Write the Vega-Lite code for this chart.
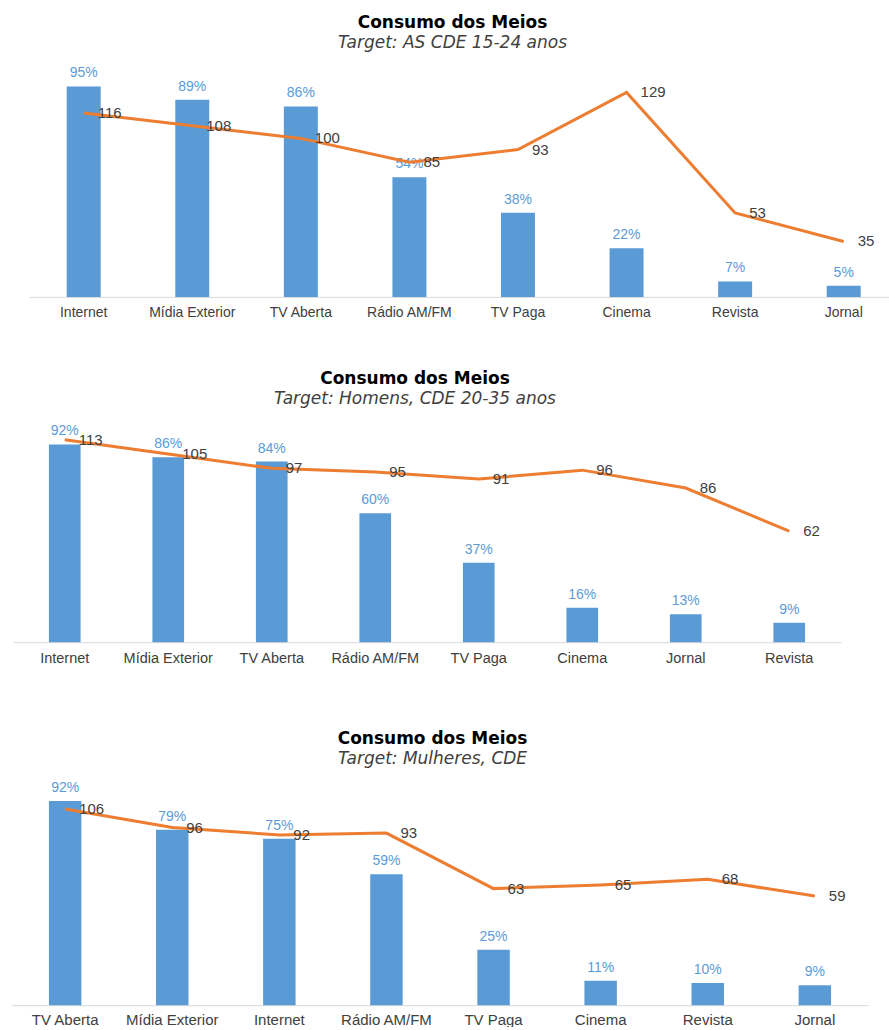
{
  "$schema": "https://vega.github.io/schema/vega-lite/v6.json",
  "padding": {"top": 14.2, "left": 0, "right": 0, "bottom": 0},
  "spacing": 0,
  "background": "white",
  "config": {
    "view": {"stroke": null},
    "axis": {"domainColor": "#D9D9D9", "domainWidth": 1, "ticks": false, "tickSize": 0, "grid": false, "labelColor": "#404040", "labelFont": "Liberation Sans", "labelAngle": 0, "labelOverlap": false, "labelLimit": 200, "title": null},
    "title": {"font": "DejaVu Sans", "fontSize": 17, "fontWeight": "bold", "color": "#000000", "subtitleFont": "DejaVu Sans", "subtitleFontSize": 17, "subtitleFontStyle": "italic", "subtitleColor": "#404040", "subtitlePadding": 3, "anchor": "middle", "frame": "group"}
  },
  "vconcat": [
    {
      "width": 889, "height": 241.7,
      "title": {"text": "Consumo dos Meios", "subtitle": "Target: AS CDE 15-24 anos", "offset": 2.8, "dx": 8},
      "data": {"values": [
        {"meio": "Internet", "pct": 0.95, "idx": 116},
        {"meio": "Mídia Exterior", "pct": 0.89, "idx": 108},
        {"meio": "TV Aberta", "pct": 0.86, "idx": 100},
        {"meio": "Rádio AM/FM", "pct": 0.54, "idx": 85},
        {"meio": "TV Paga", "pct": 0.38, "idx": 93},
        {"meio": "Cinema", "pct": 0.22, "idx": 129},
        {"meio": "Revista", "pct": 0.07, "idx": 53},
        {"meio": "Jornal", "pct": 0.05, "idx": 35}
      ]},
      "encoding": {"x": {"field": "meio", "type": "nominal", "sort": null, "scale": {"range": [29.4, 898], "paddingInner": 0.687, "paddingOuter": 0.3435}, "axis": {"labelFontSize": 14, "labelPadding": 9, "minExtent": 72.2, "maxExtent": 72.2}}},
      "layer": [
        {"mark": {"type": "bar", "color": "#5B9BD5"}, "encoding": {"y": {"field": "pct", "type": "quantitative", "scale": {"domain": [0, 1.0912], "nice": false}, "axis": null}}},
        {"mark": {"type": "text", "color": "#5B9BD5", "font": "Liberation Sans", "fontSize": 14, "baseline": "alphabetic", "dy": -9}, "encoding": {"y": {"field": "pct", "type": "quantitative", "scale": {"domain": [0, 1.0912], "nice": false}, "axis": null}, "text": {"field": "pct", "type": "quantitative", "format": ".0%"}}},
        {"mark": {"type": "line", "color": "#ED7D31", "strokeWidth": 3}, "encoding": {"y": {"field": "idx", "type": "quantitative", "scale": {"domain": [0, 152.5], "nice": false}, "axis": null}}},
        {"mark": {"type": "text", "color": "#404040", "font": "Liberation Sans", "fontSize": 15, "align": "left", "baseline": "middle", "dx": 14}, "encoding": {"y": {"field": "idx", "type": "quantitative", "scale": {"domain": [0, 152.5], "nice": false}, "axis": null}, "text": {"field": "idx", "type": "quantitative"}}}
      ],
      "resolve": {"scale": {"y": "independent"}}
    },
    {
      "width": 889, "height": 226,
      "title": {"text": "Consumo dos Meios", "subtitle": "Target: Homens, CDE 20-35 anos", "offset": 8.1, "dx": -29.5},
      "data": {"values": [
        {"meio": "Internet", "pct": 0.92, "idx": 113},
        {"meio": "Mídia Exterior", "pct": 0.86, "idx": 105},
        {"meio": "TV Aberta", "pct": 0.84, "idx": 97},
        {"meio": "Rádio AM/FM", "pct": 0.60, "idx": 95},
        {"meio": "TV Paga", "pct": 0.37, "idx": 91},
        {"meio": "Cinema", "pct": 0.16, "idx": 96},
        {"meio": "Jornal", "pct": 0.13, "idx": 86},
        {"meio": "Revista", "pct": 0.09, "idx": 62}
      ]},
      "encoding": {"x": {"field": "meio", "type": "nominal", "sort": null, "scale": {"range": [13, 841], "paddingInner": 0.694, "paddingOuter": 0.347}, "axis": {"labelFontSize": 14.5, "labelPadding": 9, "minExtent": 86.9, "maxExtent": 86.9}}},
      "layer": [
        {"mark": {"type": "bar", "color": "#5B9BD5"}, "encoding": {"y": {"field": "pct", "type": "quantitative", "scale": {"domain": [0, 1.0512], "nice": false}, "axis": null}}},
        {"mark": {"type": "text", "color": "#5B9BD5", "font": "Liberation Sans", "fontSize": 14, "baseline": "alphabetic", "dy": -9}, "encoding": {"y": {"field": "pct", "type": "quantitative", "scale": {"domain": [0, 1.0512], "nice": false}, "axis": null}, "text": {"field": "pct", "type": "quantitative", "format": ".0%"}}},
        {"mark": {"type": "line", "color": "#ED7D31", "strokeWidth": 3}, "encoding": {"y": {"field": "idx", "type": "quantitative", "scale": {"domain": [0, 126.1], "nice": false}, "axis": null}}},
        {"mark": {"type": "text", "color": "#404040", "font": "Liberation Sans", "fontSize": 15, "align": "left", "baseline": "middle", "dx": 14}, "encoding": {"y": {"field": "idx", "type": "quantitative", "scale": {"domain": [0, 126.1], "nice": false}, "axis": null}, "text": {"field": "idx", "type": "quantitative"}}}
      ],
      "resolve": {"scale": {"y": "independent"}}
    },
    {
      "width": 889, "height": 230,
      "title": {"text": "Consumo dos Meios", "subtitle": "Target: Mulheres, CDE", "offset": 7.1, "dx": -12},
      "data": {"values": [
        {"meio": "TV Aberta", "pct": 0.92, "idx": 106},
        {"meio": "Mídia Exterior", "pct": 0.79, "idx": 96},
        {"meio": "Internet", "pct": 0.75, "idx": 92},
        {"meio": "Rádio AM/FM", "pct": 0.59, "idx": 93},
        {"meio": "TV Paga", "pct": 0.25, "idx": 63},
        {"meio": "Cinema", "pct": 0.11, "idx": 65},
        {"meio": "Revista", "pct": 0.10, "idx": 68},
        {"meio": "Jornal", "pct": 0.09, "idx": 59}
      ]},
      "encoding": {"x": {"field": "meio", "type": "nominal", "sort": null, "scale": {"range": [11.6, 868.4], "paddingInner": 0.697, "paddingOuter": 0.3485}, "axis": {"labelFontSize": 15, "labelPadding": 7}}},
      "layer": [
        {"mark": {"type": "bar", "color": "#5B9BD5"}, "encoding": {"y": {"field": "pct", "type": "quantitative", "scale": {"domain": [0, 1.036], "nice": false}, "axis": null}}},
        {"mark": {"type": "text", "color": "#5B9BD5", "font": "Liberation Sans", "fontSize": 14, "baseline": "alphabetic", "dy": -9}, "encoding": {"y": {"field": "pct", "type": "quantitative", "scale": {"domain": [0, 1.036], "nice": false}, "axis": null}, "text": {"field": "pct", "type": "quantitative", "format": ".0%"}}},
        {"mark": {"type": "line", "color": "#ED7D31", "strokeWidth": 3}, "encoding": {"y": {"field": "idx", "type": "quantitative", "scale": {"domain": [0, 124.3], "nice": false}, "axis": null}}},
        {"mark": {"type": "text", "color": "#404040", "font": "Liberation Sans", "fontSize": 15, "align": "left", "baseline": "middle", "dx": 14}, "encoding": {"y": {"field": "idx", "type": "quantitative", "scale": {"domain": [0, 124.3], "nice": false}, "axis": null}, "text": {"field": "idx", "type": "quantitative"}}}
      ],
      "resolve": {"scale": {"y": "independent"}}
    }
  ]
}
